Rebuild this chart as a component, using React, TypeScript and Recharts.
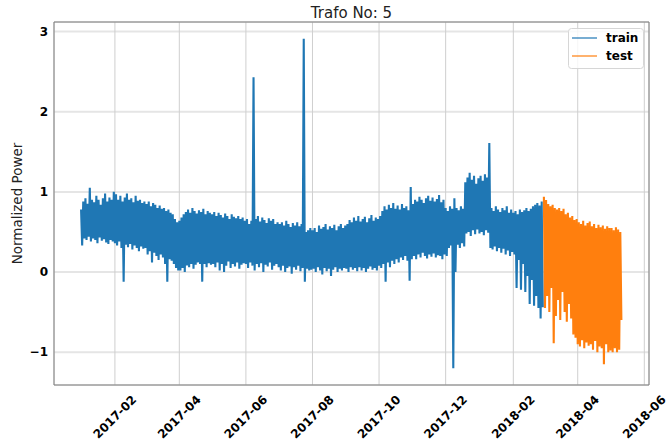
import React from 'react';
import { LineChart, Line, XAxis, YAxis, CartesianGrid, Legend, ReferenceArea } from 'recharts';

// ---- values (one value per day, alternating peaks / troughs) ----
const jan17 = [0.78,0.33,0.88,0.42,0.92,0.4,0.85,0.44,1.05,0.38,0.9,0.42,0.87,0.4,0.95,0.36,0.9,0.43,0.84,0.39,0.92,0.41,0.98,0.37,0.88,0.35,0.93,0.4,0.9,0.38,1.0];
const feb17 = [0.36,0.97,0.33,0.9,0.38,0.95,0.3,0.88,-0.12,0.93,0.34,0.98,0.31,0.9,0.35,0.92,0.28,0.87,0.33,0.95,0.3,0.89,0.26,0.9,0.32,0.86,0.29,0.88];
const mar17 = [0.3,0.85,0.22,0.88,0.26,0.82,0.12,0.86,0.24,0.84,0.2,0.8,0.15,0.83,0.22,0.79,0.18,0.8,0.1,0.76,-0.12,0.78,0.16,0.74,0.14,0.72,0.1,0.66,0.05,0.62,0.02];
const apr17 = [0.64,0.02,0.68,0.05,0.72,0.0,0.75,0.08,0.78,0.06,0.74,0.1,0.8,0.04,0.76,0.09,0.73,0.12,0.77,0.1,0.75,-0.12,0.79,0.1,0.72,0.06,0.76,0.11,0.74,0.09];
const may17 = [0.72,0.1,0.75,0.06,0.7,0.12,0.74,0.02,0.71,0.1,0.68,0.0,0.73,0.08,0.7,0.13,0.66,0.05,0.72,0.1,0.69,0.07,0.67,0.12,0.7,0.04,0.66,0.09,0.68,0.11,0.64];
const jun17 = [0.1,0.66,0.05,0.6,0.12,0.64,0.08,2.43,0.02,0.66,0.1,0.7,0.06,0.63,0.11,0.68,0.0,0.65,0.09,0.61,0.07,0.67,0.12,0.64,0.03,0.66,0.08,0.6,0.1,0.62];
const jul17 = [0.06,0.6,0.02,0.62,0.08,0.58,0.0,0.64,0.05,0.6,0.07,0.56,-0.02,0.61,0.06,0.58,0.03,0.62,0.08,0.57,0.01,0.6,0.05,2.91,-0.12,0.5,0.04,0.52,0.02,0.55,0.03];
const aug17 = [0.52,0.04,0.55,0.0,0.5,0.06,0.58,0.02,0.54,-0.03,0.56,0.05,0.6,0.01,0.53,0.04,0.57,-0.05,0.55,0.03,0.59,0.06,0.52,0.0,0.57,0.04,0.6,0.02,0.55,0.05,0.58];
const sep17 = [0.04,0.6,0.0,0.65,0.06,0.62,0.03,0.68,0.05,0.64,0.01,0.7,0.06,0.63,0.02,0.66,0.05,0.69,0.0,0.62,0.04,0.67,0.07,0.71,0.03,0.64,0.05,0.68,0.02,0.66];
const oct17 = [0.08,0.7,0.05,0.76,0.1,0.82,-0.12,0.78,0.12,0.84,0.06,0.8,0.14,0.86,0.1,0.79,0.16,0.83,0.12,0.78,0.18,0.85,0.15,0.8,0.2,0.82,0.14,0.77,-0.11,1.06,0.16];
const nov17 = [0.85,0.2,0.9,0.16,0.88,0.22,0.94,0.18,0.9,0.24,0.86,0.2,0.92,0.17,0.95,0.22,0.89,0.19,0.93,0.23,0.88,0.18,0.91,0.21,0.96,0.2,0.87,0.16,0.9,0.22];
const dec17 = [0.8,0.2,0.76,0.3,0.82,0.33,0.79,-1.2,0.92,0.0,0.8,0.34,0.77,0.3,0.82,0.36,0.79,0.32,1.12,0.48,1.18,0.5,1.24,0.45,1.15,0.52,1.2,0.47,1.1,0.53,1.17];
const jan18 = [0.48,1.2,0.5,1.14,0.46,1.22,0.52,1.18,0.49,1.61,0.3,0.8,0.28,0.76,0.32,0.82,0.26,0.78,0.3,0.75,0.24,0.8,0.29,0.77,0.22,0.82,0.27,0.74,0.2,0.78,0.25];
const feb18 = [0.74,0.22,0.76,-0.2,0.72,0.15,0.78,-0.22,0.75,0.1,0.77,-0.25,0.8,-0.05,0.76,-0.4,0.79,-0.1,0.82,-0.42,0.84,-0.3,0.86,-0.45,0.83,-0.58,0.88,-0.44];

const mar18 = [0.94,-0.45,0.9,-0.3,0.85,-0.5,0.82,-0.2,0.84,-0.89,0.8,-0.55,0.78,-0.35,0.8,-0.6,0.76,-0.25,0.79,-0.5,0.72,-0.62,0.74,-0.4,0.68,-0.58,0.7,-0.78,0.65,-0.82,0.66];
const apr18 = [-0.9,0.62,-0.93,0.6,-0.85,0.64,-0.95,0.58,-0.88,0.61,-0.92,0.63,-0.9,0.57,-0.97,0.6,-0.86,0.55,-1.0,0.59,-0.93,0.56,-0.95,0.58,-1.15,0.54,-0.9,0.57,-1.0,0.55];
const may18 = [-0.98,0.55,-1.0,0.52,-0.95,0.56,-1.0,0.53,-0.97,0.5,-0.6];

// chunk: [first date, number of days covered, values]
const trainChunks: [string, number, number[]][] = [
  ['2017-01-01', 31, jan17], ['2017-02-01', 28, feb17], ['2017-03-01', 31, mar17],
  ['2017-04-01', 30, apr17], ['2017-05-01', 31, may17], ['2017-06-01', 30, jun17],
  ['2017-07-01', 31, jul17], ['2017-08-01', 31, aug17], ['2017-09-01', 30, sep17],
  ['2017-10-01', 31, oct17], ['2017-11-01', 30, nov17], ['2017-12-01', 31, dec17],
  ['2018-01-01', 31, jan18], ['2018-02-01', 28, feb18],
];
const testChunks: [string, number, number[]][] = [
  ['2018-03-01', 31, mar18], ['2018-04-01', 30, apr18], ['2018-05-01', 11, may18],
];

const seriesNames = ['train', 'test'];
const xTickLabels = ['2017-02','2017-04','2017-06','2017-08','2017-10','2017-12','2018-02','2018-04','2018-06'];
const yTicks = [-1, 0, 1, 2, 3];
const yTickLabels = ['\u22121', '0', '1', '2', '3'];

const X_MIN = -24.8;
const X_MAX = 520.3;
const Y_MIN = -1.41;
const Y_MAX = 3.12;

const DAY_MS = 86400000;
const ORIGIN = Date.UTC(2017, 0, 1);
function dayOf(s: string): number {
  const parts = s.split('-').map(Number);
  return (Date.UTC(parts[0], parts[1] - 1, parts[2] || 1) - ORIGIN) / DAY_MS;
}
function build(chunks: [string, number, number[]][]) {
  const out: { day: number; value: number }[] = [];
  for (const [start, span, vals] of chunks) {
    const d0 = dayOf(start);
    vals.forEach((v, i) => out.push({ day: d0 + (i * span) / vals.length, value: v }));
  }
  return out;
}
const trainData = build(trainChunks);
const testData = build(testChunks);
const xTicks = xTickLabels.map((l) => dayOf(l));

const FONT = 'DejaVu Sans';

const XTick = (props: any) => {
  const { x, y, payload } = props;
  const idx = xTicks.indexOf(payload.value);
  const cy = y + 32;
  return (
    <text x={x} y={cy} textAnchor="middle" dominantBaseline="central" transform={`rotate(-45, ${x}, ${cy})`}
      fontFamily={FONT} fontWeight="bold" fontSize={12} fill="#000">
      {idx >= 0 ? xTickLabels[idx] : ''}
    </text>
  );
};

const YTick = (props: any) => {
  const { x, y, payload } = props;
  const idx = yTicks.indexOf(payload.value);
  return (
    <text x={x - 6} y={y} textAnchor="end" dominantBaseline="central" fontFamily={FONT} fontWeight="bold" fontSize={12} fill="#000">
      {idx >= 0 ? yTickLabels[idx] : ''}
    </text>
  );
};

const YLabel = (props: any) => {
  const vb = props.viewBox || { x: 0, y: 22, width: 54, height: 363 };
  const cx = vb.x + 17;
  const cy = vb.y + vb.height / 2;
  return (
    <text x={cx} y={cy} textAnchor="middle" dominantBaseline="central" transform={`rotate(-90, ${cx}, ${cy})`}
      fontFamily={FONT} fontSize={13.5} fill="#222">
      Normalized Power
    </text>
  );
};

const LegendBox = (props: any) => {
  const items = [...(props.payload || [])].sort(
    (a: any, b: any) => seriesNames.indexOf(a.value) - seriesNames.indexOf(b.value)
  );
  return (
    <svg width={77} height={42} style={{ display: 'block' }}>
      <rect x={0.5} y={0.5} width={75} height={40} rx={3} fill="#fff" fillOpacity={0.8} stroke="#d6d6d6" />
      {items.map((it: any, i: number) => (
        <g key={i}>
          <line x1={4} x2={29} y1={10 + i * 18} y2={10 + i * 18} stroke={it.color} strokeWidth={1.5} strokeOpacity={0.8} />
          <text x={38} y={10 + i * 18} dominantBaseline="central" fontFamily={FONT} fontWeight="bold" fontSize={12} fill="#000">
            {it.value}
          </text>
        </g>
      ))}
    </svg>
  );
};

export default function App() {
  return (
    <div style={{ position: 'absolute', left: 0, top: 0 }}>
      <LineChart width={667} height={444} margin={{ top: 22, right: 18, bottom: 0, left: 0 }}>
        <CartesianGrid horizontal={true} vertical={false} stroke="#e5e5e5" strokeWidth={2} />
        <CartesianGrid horizontal={false} vertical={true} stroke="#cfcfcf" strokeWidth={1} />
        <XAxis type="number" dataKey="day" domain={[X_MIN, X_MAX]} ticks={xTicks} interval={0} height={59}
          allowDataOverflow tickLine={false} axisLine={false} tickSize={0} tickMargin={0} tick={<XTick />} />
        <YAxis type="number" domain={[Y_MIN, Y_MAX]} ticks={yTicks} interval={0} width={54}
          allowDataOverflow tickLine={false} axisLine={false} tickSize={0} tickMargin={0} tick={<YTick />} label={<YLabel />} />
        <Line data={trainData} dataKey="value" name="train" type="linear" stroke="#1f77b4" strokeWidth={2.1}
          strokeLinejoin="miter" dot={false} activeDot={false} isAnimationActive={false} />
        <Line data={testData} dataKey="value" name="test" type="linear" stroke="#ff7f0e" strokeWidth={2.1}
          strokeLinejoin="miter" dot={false} activeDot={false} isAnimationActive={false} />
        <ReferenceArea x1={X_MIN} x2={X_MAX} y1={Y_MIN} y2={Y_MAX} fill="none" fillOpacity={0} stroke="#808080" strokeWidth={1} ifOverflow="visible" />
        <Legend layout="vertical" align="center" verticalAlign="middle" content={<LegendBox />}
          wrapperStyle={{ position: 'absolute', left: 568, top: 28, width: 77, height: 42 }} />
        <text x={351.5} y={18} textAnchor="middle" fontFamily={FONT} fontSize={15} fill="#222">Trafo No: 5</text>
      </LineChart>
    </div>
  );
}
